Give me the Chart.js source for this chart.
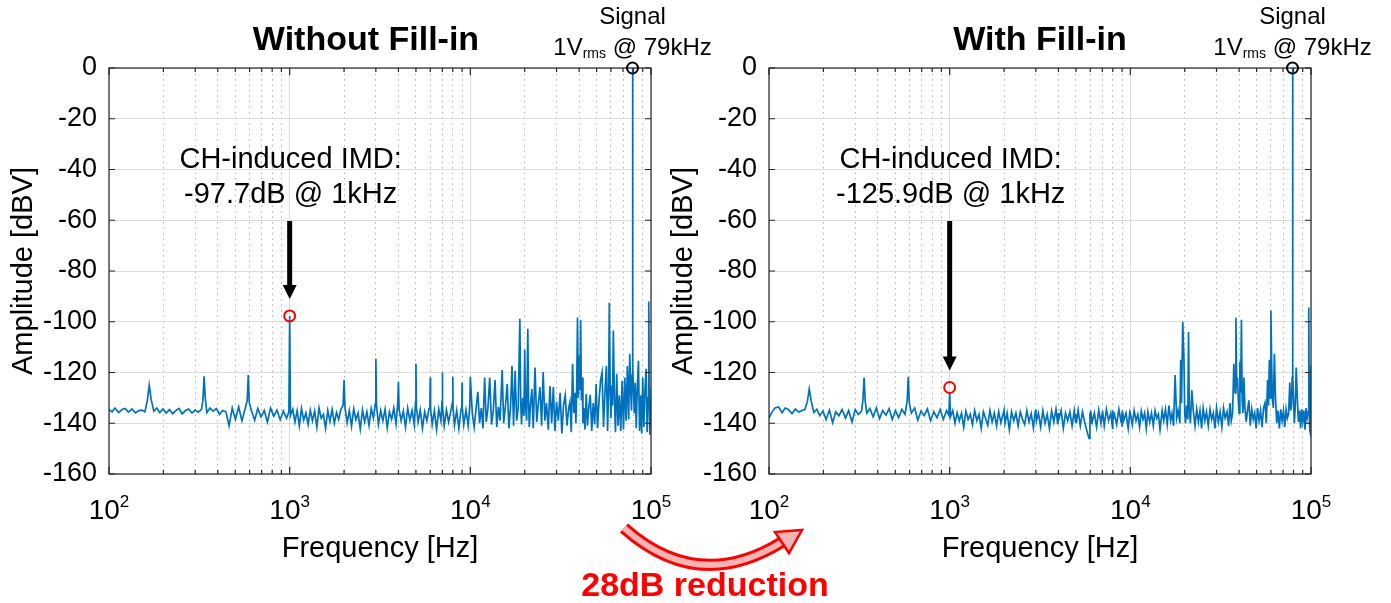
<!DOCTYPE html>
<html>
<head>
<meta charset="utf-8">
<script src="https://cdn.jsdelivr.net/npm/chart.js@4.4.1/dist/chart.umd.min.js"></script>
<style>
  html, body { margin: 0; padding: 0; background: #fff; }
  #wrap { position: relative; width: 1391px; height: 603px; }
  canvas { position: absolute; left: 0; top: 0; }
</style>
</head>
<body>
<div id="wrap">
  <canvas id="without" width="1391" height="603"></canvas>
  <canvas id="with" width="1391" height="603"></canvas>
</div>
<script>
const FONT = "'Liberation Sans', Arial, Helvetica, sans-serif";

// frequency bins [Hz], shared by both spectra
const freqHz = [
  100, 104, 108, 113, 118, 123, 128, 134, 140, 146,
  152, 158, 163, 167, 171, 177, 184, 191, 199, 207,
  216, 225, 234, 244, 254, 265, 276, 288, 300, 312,
  325, 331, 336, 341, 348, 362, 377, 393, 409, 426,
  444, 462, 481, 501, 522, 544, 566, 582, 590, 598,
  614, 640, 666, 694, 723, 753, 784, 817, 851, 886,
  923, 961, 990, 1000,
  1010, 1040, 1070, 1100, 1131, 1163, 1196, 1230, 1265, 1300,
  1337, 1375, 1414, 1454, 1495, 1537, 1580, 1625, 1671, 1718,
  1767, 1817, 1868, 1921, 1975, 2000, 2025, 2080, 2140, 2200,
  2262, 2326, 2392, 2460, 2530, 2601, 2675, 2750, 2828, 2908,
  2975, 3000, 3025, 3100, 3190, 3280, 3373, 3468, 3566, 3667,
  3770, 3877, 3965, 4000, 4035, 4140, 4257, 4377, 4500, 4628,
  4760, 4895, 4975, 5000, 5025, 5140, 5285, 5434, 5588, 5746,
  5908, 5975, 6000, 6025, 6150, 6325, 6504, 6688, 6877, 6975,
  7000, 7025, 7170, 7373, 7582, 7796, 7975, 8000, 8025, 8170,
  8401, 8639, 8883, 8975, 9000, 9025, 9200, 9460, 9728, 9930,
  10000, 10250, 10500, 10750, 11000, 11250, 11500, 11750, 12000, 12250,
  12500, 12800, 13100, 13400, 13700, 14000, 14300, 14600, 15000, 15300,
  15650, 16000, 16350, 16700, 17000, 17350, 17700, 18050, 18400, 18800,
  19000, 19200, 19500, 19800, 20000, 20200, 20500, 20800, 21000, 21200,
  21500, 21900, 22300, 22800, 23300, 23800, 24300, 24800, 25300, 25850,
  26400, 27000, 27600, 28200, 28800, 29400, 30000, 30700, 31400, 32100,
  32800, 33500, 34300, 35000, 35600, 36200, 36800, 37400, 38000, 38400,
  38800, 39200, 39600, 40000, 40400, 40800, 41200, 41600, 42000, 42500,
  43100, 43800, 44500, 45300, 46100, 47000, 47900, 48800, 49700, 50600,
  51600, 52600, 53600, 54600, 55600, 56600, 57500, 58200, 58800, 59400,
  60000, 60600, 61200, 61900, 62700, 63600, 64600, 65700, 66800, 68000,
  69200, 70400, 71600, 72800, 74000, 75200, 76300, 77200, 78000, 78600,
  79000, 79400, 80000, 80800, 81800, 82800, 84000, 85200, 86400, 87600,
  88800, 90000, 91300, 92600, 93900, 95200, 96400, 97200, 97800, 98500,
  99300, 100000
];

// amplitude [dBV] without fill-in
const ampWithout = [
  -134.5, -135.5, -134.0, -135.8, -134.6, -134.2, -135.6, -134.4, -135.9, -135.0,
  -134.8, -135.5, -131.0, -125.0, -130.5, -135.2, -134.0, -135.8, -134.3, -136.0,
  -134.6, -136.2, -135.0, -134.2, -136.3, -135.0, -134.4, -136.0, -134.8, -135.6,
  -134.5, -131.0, -121.5, -130.0, -135.8, -134.0, -135.2, -134.2, -136.5, -135.0,
  -135.5, -141.0, -134.0, -138.5, -133.5, -139.0, -134.5, -131.0, -121.0, -132.0,
  -135.0, -138.8, -134.2, -137.5, -135.0, -139.5, -134.0, -137.2, -134.8, -138.6,
  -135.2, -138.0, -135.5, -97.7,
  -137.0, -134.5, -139.5, -135.0, -141.0, -134.2, -138.8, -136.0, -140.5, -134.8,
  -139.0, -135.2, -141.5, -134.0, -138.0, -136.5, -142.0, -135.0, -139.2, -134.6,
  -140.0, -135.8, -138.5, -134.5, -133.0, -123.0, -134.0, -139.8, -135.0, -141.2,
  -134.4, -138.6, -136.0, -142.3, -134.8, -139.5, -135.5, -140.8, -134.2, -138.0,
  -132.5, -114.6, -133.0, -140.5, -135.0, -139.0, -134.5, -141.8, -135.5, -138.5,
  -134.0, -140.2, -132.0, -123.7, -134.5, -139.0, -135.2, -141.5, -134.0, -138.8,
  -135.0, -140.6, -131.5, -116.6, -133.5, -139.5, -134.8, -142.0, -135.5, -139.0,
  -134.2, -131.0, -122.0, -134.0, -140.5, -135.0, -142.5, -134.5, -139.0, -131.0,
  -120.0, -133.5, -141.0, -134.8, -139.5, -135.2, -131.5, -121.7, -134.0, -140.8,
  -135.0, -142.0, -134.5, -132.0, -124.0, -133.5, -140.5, -134.8, -141.0, -133.0,
  -121.7, -136.0, -141.5, -134.5, -127.6, -140.0, -134.0, -142.0, -122.0, -139.5,
  -134.5, -122.0, -140.5, -135.0, -123.0, -141.5, -133.5, -139.0, -119.0, -140.0,
  -133.0, -124.5, -142.0, -133.5, -117.4, -141.0, -119.3, -139.0, -134.0, -98.8,
  -131.0, -140.5, -130.0, -137.0, -111.0, -133.0, -139.0, -102.8, -131.0, -141.5,
  -133.0, -126.5, -142.0, -118.0, -139.5, -132.0, -125.7, -141.0, -119.8, -139.0,
  -132.0, -142.5, -125.3, -140.0, -125.7, -143.0, -131.5, -139.0, -128.0, -144.0,
  -133.0, -129.0, -141.0, -134.0, -131.6, -143.5, -116.6, -136.0, -128.0, -140.0,
  -125.0, -98.3, -130.0, -113.4, -127.0, -99.2, -131.0, -122.0, -140.0, -134.0,
  -142.5, -128.5, -141.0, -133.5, -128.8, -143.0, -132.0, -140.5, -124.5, -142.0,
  -131.0, -123.0, -120.0, -141.5, -128.0, -117.4, -143.0, -128.0, -92.5, -125.0,
  -138.0, -126.0, -133.0, -103.5, -130.0, -143.5, -120.5, -141.0, -129.0, -143.0,
  -123.3, -142.5, -122.0, -139.0, -117.4, -138.5, -112.6, -127.0, -135.0, -121.0,
  0.0, -118.0, -127.0, -136.0, -124.0, -142.0, -126.0, -115.4, -143.0, -129.0,
  -144.0, -122.0, -141.5, -127.0, -118.5, -143.5, -130.0, -92.0, -126.0, -144.5,
  -130.0, -141.0
];

// amplitude [dBV] with fill-in
const ampWith = [
  -138.0, -135.5, -134.0, -133.6, -135.8, -134.0, -134.6, -136.2, -134.4, -135.6,
  -135.0, -134.6, -131.5, -126.5, -131.0, -135.8, -134.5, -137.0, -135.2, -138.5,
  -134.8, -139.8, -135.5, -137.0, -134.6, -138.0, -135.0, -139.5, -134.6, -136.5,
  -135.2, -131.0, -122.0, -131.5, -136.0, -134.2, -137.5, -134.0, -138.2, -135.0,
  -136.8, -134.2, -138.5, -135.0, -137.8, -134.5, -136.5, -131.0, -121.7, -132.0,
  -136.0, -134.0, -138.8, -135.2, -137.0, -134.4, -139.0, -135.5, -137.8, -134.6,
  -138.5, -135.0, -136.8, -128.0,
  -137.5, -135.0, -140.0, -135.8, -139.0, -136.0, -141.5, -135.2, -138.5, -136.4,
  -140.5, -135.0, -139.0, -136.5, -142.0, -135.5, -138.0, -140.8, -135.0, -139.5,
  -136.0, -141.0, -135.4, -139.8, -136.5, -134.8, -140.0, -136.0, -142.5, -135.5,
  -139.0, -136.0, -141.0, -135.5, -138.5, -140.5, -135.0, -139.5, -136.2, -141.8,
  -135.5, -134.5, -139.0, -136.0, -141.5, -135.0, -140.0, -136.5, -142.0, -135.2,
  -139.5, -134.5, -140.5, -136.0, -138.0, -135.0, -142.0, -136.0, -139.0, -135.5,
  -141.0, -135.0, -139.5, -136.5, -140.0, -134.8, -141.0, -135.5, -139.5, -143.0,
  -146.0, -136.0, -140.0, -135.0, -139.5, -136.0, -141.5, -134.8, -140.0, -136.2,
  -138.5, -135.0, -141.0, -134.5, -139.0, -136.0, -142.0, -135.0, -138.5, -136.5,
  -140.5, -134.5, -139.5, -136.0, -141.0, -135.0, -138.8, -136.0, -142.0, -135.5,
  -136.0, -140.5, -135.0, -139.0, -136.5, -141.5, -135.2, -138.5, -136.0, -142.0,
  -135.5, -139.5, -136.0, -141.0, -135.0, -138.0, -136.5, -142.5, -135.0, -139.0,
  -134.5, -140.5, -133.0, -139.0, -136.0, -141.0, -121.0, -138.0, -135.0, -140.0,
  -115.0, -132.0, -100.0, -114.6, -136.0, -140.0, -133.0, -138.5, -104.0, -134.0,
  -140.0, -127.0, -135.0, -141.0, -134.5, -139.5, -135.0, -142.0, -134.0, -139.0,
  -135.5, -141.0, -134.5, -138.5, -136.0, -142.0, -134.0, -139.5, -135.5, -141.5,
  -134.0, -138.0, -135.5, -141.0, -132.0, -139.0, -136.0, -116.6, -128.0, -98.4,
  -126.0, -122.0, -131.0, -136.0, -115.8, -128.0, -99.2, -131.0, -136.0, -122.0,
  -134.0, -139.5, -135.0, -131.0, -141.0, -134.5, -138.5, -136.0, -142.0, -134.0,
  -139.0, -135.0, -141.5, -134.0, -132.0, -140.0, -123.0, -133.0, -115.0, -130.0,
  -95.6, -118.0, -131.0, -134.0, -112.6, -130.0, -140.0, -135.0, -142.0, -134.5,
  -139.0, -135.0, -141.5, -134.5, -138.0, -136.0, -124.0, -135.0, -133.0, -122.0,
  0.0, -121.0, -130.0, -140.0, -134.0, -118.0, -130.0, -139.5, -135.0, -142.0,
  -134.5, -139.0, -135.0, -142.5, -134.0, -138.0, -135.5, -94.4, -136.0, -143.0,
  -144.0, -117.0
];

const yTicks = [0, -20, -40, -60, -80, -100, -120, -140, -160];
const xDecades = [2, 3, 4, 5];
const xMinor = [2, 3, 4, 5, 6, 7, 8, 9];
const toneHz = 79000;
const toneDb = 0;
const imdHz = 1000;

const xGrid = [];
xDecades.forEach((e, i) => {
  xGrid.push(10 ** e);
  if (i < xDecades.length - 1) xMinor.forEach(m => xGrid.push(m * 10 ** e));
});

const isDecade = v => Math.abs(Math.log10(v) - Math.round(Math.log10(v))) < 1e-9;
const isMinor = c => c.tick && !isDecade(c.tick.value);

function decorate(chart, o) {
  const { ctx, chartArea: a, scales: { x, y } } = chart;
  ctx.save();

  // axes box with inward ticks (MATLAB style)
  ctx.strokeStyle = '#262626';
  ctx.lineWidth = 1.2;
  ctx.strokeRect(a.left, a.top, a.right - a.left, a.bottom - a.top);
  ctx.beginPath();
  x.ticks.forEach(t => {
    const px = x.getPixelForValue(t.value);
    const len = isDecade(t.value) ? 7 : 4;
    ctx.moveTo(px, a.bottom); ctx.lineTo(px, a.bottom - len);
    ctx.moveTo(px, a.top); ctx.lineTo(px, a.top + len);
  });
  y.ticks.forEach(t => {
    const py = y.getPixelForValue(t.value);
    ctx.moveTo(a.left, py); ctx.lineTo(a.left + 6, py);
    ctx.moveTo(a.right, py); ctx.lineTo(a.right - 6, py);
  });
  ctx.stroke();

  // 10^n tick labels
  ctx.fillStyle = '#000';
  ctx.textBaseline = 'alphabetic';
  ctx.textAlign = 'left';
  xDecades.forEach(e => {
    const px = x.getPixelForValue(10 ** e);
    ctx.font = `28px ${FONT}`;
    const wb = ctx.measureText('10').width;
    ctx.font = `17px ${FONT}`;
    const we = ctx.measureText(String(e)).width;
    const left = px - (wb + we) / 2;
    ctx.font = `28px ${FONT}`;
    ctx.fillText('10', left, 519);
    ctx.font = `17px ${FONT}`;
    ctx.fillText(String(e), left + wb, 507);
  });

  // title
  ctx.textAlign = 'center';
  ctx.font = `bold 34px ${FONT}`;
  ctx.fillText(o.title, o.titleX, 50);

  // signal marker and label
  const tx = x.getPixelForValue(toneHz);
  const ty = y.getPixelForValue(toneDb);
  ctx.strokeStyle = '#000';
  ctx.lineWidth = 2;
  ctx.beginPath();
  ctx.arc(tx, ty, 5.5, 0, Math.PI * 2);
  ctx.stroke();
  ctx.font = `24px ${FONT}`;
  ctx.fillText('Signal', tx, 24);
  const parts = [['1V', 24, 55], ['rms', 14, 58], [' @ 79kHz', 24, 55]];
  let total = 0;
  parts.forEach(p => { ctx.font = `${p[1]}px ${FONT}`; total += ctx.measureText(p[0]).width; });
  let cx = tx - total / 2;
  ctx.textAlign = 'left';
  parts.forEach(p => {
    ctx.font = `${p[1]}px ${FONT}`;
    ctx.fillText(p[0], cx, p[2]);
    cx += ctx.measureText(p[0]).width;
  });

  // IMD annotation
  const ix = x.getPixelForValue(imdHz);
  const iy = y.getPixelForValue(o.imdDb);
  ctx.textAlign = 'center';
  ctx.font = `29px ${FONT}`;
  ctx.fillText('CH-induced IMD:', ix + 1, 168);
  ctx.fillText(o.imdText, ix + 1, 203);
  const tip = iy - 17;
  ctx.fillStyle = '#000';
  ctx.fillRect(ix - 2.5, 221, 5, tip - 12 - 221);
  ctx.beginPath();
  ctx.moveTo(ix - 7, tip - 14);
  ctx.lineTo(ix + 7, tip - 14);
  ctx.lineTo(ix, tip);
  ctx.closePath();
  ctx.fill();
  ctx.strokeStyle = '#ff0000';
  ctx.lineWidth = 2;
  ctx.beginPath();
  ctx.arc(ix, iy, 5.5, 0, Math.PI * 2);
  ctx.stroke();

  if (o.extra) o.extra(ctx);
  ctx.restore();
}

function reductionArrow(ctx) {
  ctx.save();
  ctx.beginPath();
  ctx.moveTo(624, 528);
  ctx.quadraticCurveTo(698, 594, 782, 542);
  ctx.strokeStyle = '#ff0000';
  ctx.lineWidth = 12;
  ctx.stroke();
  ctx.strokeStyle = '#f6b4b4';
  ctx.lineWidth = 6;
  ctx.stroke();
  ctx.beginPath();
  ctx.moveTo(802, 530);
  ctx.lineTo(789, 553);
  ctx.lineTo(775, 532);
  ctx.closePath();
  ctx.fillStyle = '#f6b4b4';
  ctx.fill();
  ctx.lineWidth = 2.5;
  ctx.strokeStyle = '#ff0000';
  ctx.stroke();
  ctx.fillStyle = '#ff0000';
  ctx.textAlign = 'center';
  ctx.font = `bold 34px ${FONT}`;
  ctx.fillText('28dB reduction', 705, 596);
  ctx.restore();
}

function panel(id, amps, o) {
  const pts = freqHz.map((f, i) => ({ x: f, y: amps[i] }));
  return new Chart(document.getElementById(id), {
    type: 'line',
    data: {
      datasets: [{
        data: pts,
        borderColor: '#0072BD',
        borderWidth: 1.7,
        pointRadius: 0,
        tension: 0,
        fill: false
      }]
    },
    options: {
      responsive: false,
      animation: false,
      events: [],
      layout: { padding: { left: o.padLeft, right: o.padRight, top: 68, bottom: 0 } },
      plugins: { legend: { display: false }, tooltip: { enabled: false } },
      scales: {
        x: {
          type: 'logarithmic',
          min: 100,
          max: 100000,
          afterFit: s => { s.height = 129; },
          afterBuildTicks: s => { s.ticks = xGrid.map(v => ({ value: v })); },
          ticks: { display: false },
          grid: {
            drawTicks: false,
            color: c => isMinor(c) ? '#b0b0b0' : '#dcdcdc',
            lineWidth: 1
          },
          border: { display: false, dash: c => isMinor(c) ? [1.5, 4] : [] },
          title: {
            display: true, text: 'Frequency [Hz]', color: '#000',
            font: { family: FONT, size: 29 }, padding: { top: 0, bottom: 37 }
          }
        },
        y: {
          min: -160,
          max: 0,
          afterFit: s => { s.width = 109; },
          afterBuildTicks: s => { s.ticks = yTicks.map(v => ({ value: v })); },
          ticks: { color: '#000', font: { family: FONT, size: 27 }, padding: 12, autoSkip: false },
          grid: { drawTicks: false, color: '#dcdcdc' },
          border: { display: false },
          title: {
            display: true, text: 'Amplitude [dBV]', color: '#000',
            font: { family: FONT, size: 29 }, padding: { top: 7, bottom: 0 }
          }
        }
      }
    },
    plugins: [{ id: 'decor', afterDraw: c => decorate(c, o) }]
  });
}

panel('without', ampWithout, {
  padLeft: 0, padRight: 740, title: 'Without Fill-in', titleX: 366,
  imdDb: -97.7, imdText: '-97.7dB @ 1kHz', extra: reductionArrow
});
panel('with', ampWith, {
  padLeft: 660, padRight: 80, title: 'With Fill-in', titleX: 1040,
  imdDb: -125.9, imdText: '-125.9dB @ 1kHz'
});
</script>
</body>
</html>
